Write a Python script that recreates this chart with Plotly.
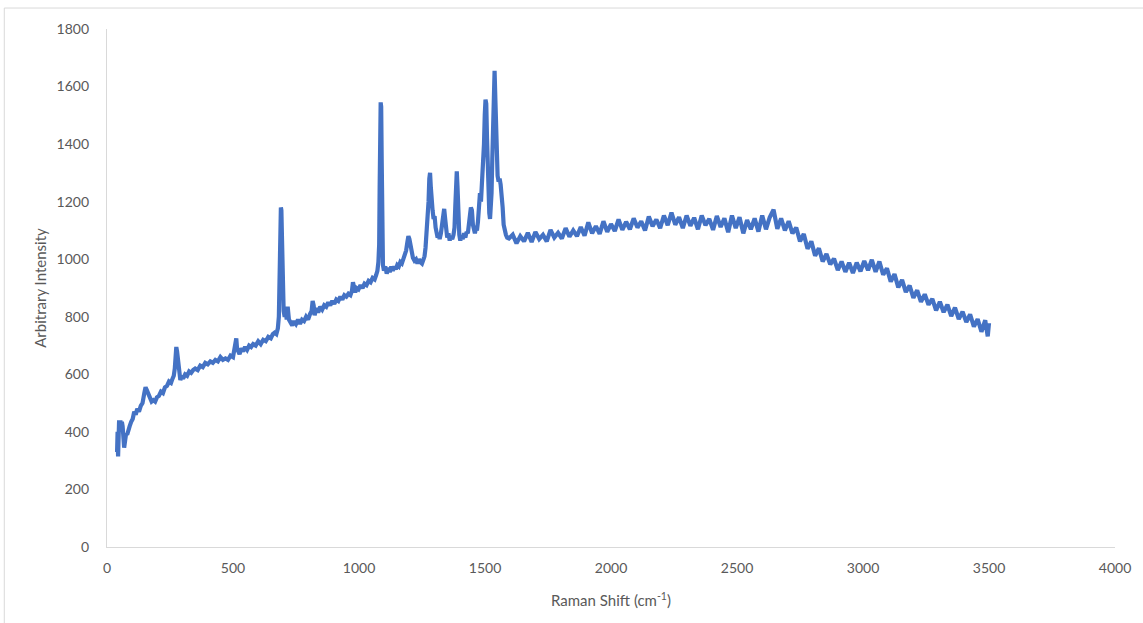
import plotly.graph_objects as go

# Raman spectrum: low-shift region with sharp bands (cm^-1)
shift_low = [40, 42, 44, 46, 48, 50, 53, 56, 59, 62, 65, 68, 72, 76, 80, 85, 90, 96, 102, 108,
             114, 120, 127, 134, 141, 148, 153, 158, 164, 170, 177, 184, 191, 198, 206, 214, 222,
             230, 238, 246, 254, 260, 265, 269, 272, 275, 278, 282, 286, 291, 296, 302, 310, 318,
             326, 334, 342, 350, 360, 370, 380, 390, 400, 410, 420, 430, 440, 450, 460, 470, 480,
             490, 500, 505, 510, 513, 516, 520, 526, 533, 540, 548, 556, 564, 572, 580, 590, 600,
             610, 620, 630, 640, 650, 658, 665, 672, 678, 682, 685, 688, 690, 692, 695, 698, 701,
             705, 709, 713, 717, 722, 728, 735, 742, 750, 758, 766, 774, 782, 790, 798, 806, 812,
             816, 820, 824, 830, 838, 846, 854, 862, 870, 878, 886, 894, 902, 910, 918, 926, 934,
             942, 950, 958, 966, 972, 976, 980, 985, 990, 998, 1006, 1014, 1022, 1030, 1038, 1046,
             1054, 1062, 1068, 1073, 1077, 1080, 1082, 1084, 1086, 1088, 1090, 1092, 1095, 1099,
             1104, 1110, 1116, 1122, 1128, 1134, 1140, 1146, 1152, 1158, 1164, 1170, 1176, 1182,
             1187, 1192, 1196, 1200, 1204, 1209, 1214, 1220, 1226, 1232, 1238, 1244, 1250, 1256,
             1260, 1264, 1268, 1272, 1276, 1279, 1282, 1285, 1288, 1292, 1296, 1300, 1304, 1308,
             1312, 1316, 1320, 1325, 1330, 1334, 1338, 1342, 1346, 1350, 1355, 1360, 1365, 1370,
             1375, 1379, 1382, 1385, 1388, 1391, 1394, 1398, 1402, 1407, 1412, 1417, 1422, 1427,
             1432, 1436, 1440, 1444, 1448, 1452, 1456, 1460, 1464, 1468, 1472, 1476, 1480, 1484,
             1488, 1492, 1496, 1499, 1502, 1505, 1508, 1511, 1514, 1517, 1520, 1523, 1526, 1529,
             1532, 1535, 1538, 1541, 1544, 1547, 1550, 1554, 1558, 1562, 1566, 1570, 1574, 1578,
             1583, 1588]
intensity_low = [330, 400, 315, 420, 440, 400, 440, 415, 435, 420, 360, 345, 370, 395, 390, 410,
                 420, 435, 445, 470, 460, 480, 470, 490, 500, 535, 555, 545, 530, 520, 505, 510,
                 505, 520, 525, 540, 535, 555, 560, 575, 570, 585, 595, 620, 660, 695, 680, 640,
                 600, 580, 595, 585, 600, 595, 610, 605, 615, 620, 615, 630, 625, 640, 635, 645,
                 640, 650, 645, 660, 650, 655, 650, 665, 660, 680, 700, 725, 690, 680, 670, 690,
                 680, 695, 685, 700, 695, 705, 700, 715, 705, 720, 715, 730, 725, 740, 745, 740,
                 760, 800, 950, 1150, 1180, 1170, 1050, 880, 820, 800, 830, 790, 835, 790, 780,
                 770, 785, 775, 790, 775, 790, 785, 800, 790, 810, 820, 855, 840, 805, 830, 815,
                 835, 825, 840, 835, 850, 840, 855, 845, 860, 855, 870, 860, 875, 870, 880, 875,
                 890, 920, 905, 885, 900, 895, 910, 900, 915, 910, 925, 920, 935, 930, 945, 960,
                 990, 1050, 1250, 1450, 1545, 1530, 1350, 1100, 980, 960, 975, 950, 970, 955, 975,
                 960, 975, 965, 980, 975, 990, 985, 1000, 1010, 1030, 1060, 1080, 1070, 1045, 1020,
                 1005, 995, 1000, 985, 1000, 990, 985, 1000, 1010, 1040, 1080, 1130, 1200, 1280,
                 1300, 1250, 1180, 1170, 1140, 1150, 1110, 1090, 1075, 1085, 1070, 1090, 1120,
                 1160, 1175, 1140, 1095, 1075, 1090, 1065, 1080, 1070, 1085, 1110, 1180, 1280,
                 1305, 1250, 1140, 1085, 1065, 1080, 1070, 1090, 1075, 1095, 1090, 1110, 1150,
                 1180, 1170, 1120, 1095, 1090, 1110, 1100, 1130, 1180, 1230, 1200, 1250, 1300,
                 1400, 1500, 1555, 1540, 1420, 1280, 1200, 1160, 1140, 1170, 1230, 1350, 1500,
                 1620, 1655, 1560, 1420, 1330, 1290, 1270, 1280, 1260, 1230, 1180, 1120, 1095,
                 1085, 1075]

# Broad fluorescence background at higher shifts (cm^-1)
shift_high = [1595, 1610, 1625, 1640, 1655, 1670, 1685, 1700, 1715, 1730, 1745, 1760, 1775, 1790,
              1805, 1820, 1835, 1850, 1865, 1880, 1895, 1910, 1925, 1940, 1955, 1970, 1985, 2000,
              2015, 2030, 2045, 2060, 2075, 2090, 2105, 2120, 2135, 2150, 2165, 2180, 2195, 2210,
              2225, 2240, 2255, 2270, 2285, 2300, 2315, 2330, 2345, 2360, 2375, 2390, 2405, 2420,
              2435, 2450, 2465, 2480, 2495, 2510, 2525, 2540, 2555, 2570, 2585, 2600, 2615, 2630,
              2645, 2660, 2675, 2690, 2705, 2720, 2735, 2750, 2765, 2780, 2795, 2810, 2825, 2840,
              2855, 2870, 2885, 2900, 2915, 2930, 2945, 2960, 2975, 2990, 3005, 3020, 3035, 3050,
              3065, 3080, 3095, 3110, 3125, 3140, 3155, 3170, 3185, 3200, 3215, 3230, 3245, 3260,
              3275, 3290, 3305, 3320, 3335, 3350, 3365, 3380, 3395, 3410, 3425, 3440, 3455, 3470,
              3485, 3495, 3500]
intensity_high = [1072, 1085, 1055, 1080, 1062, 1092, 1060, 1095, 1070, 1085, 1062, 1102, 1075,
                  1092, 1072, 1108, 1078, 1100, 1080, 1112, 1082, 1128, 1090, 1115, 1088, 1132,
                  1095, 1122, 1098, 1138, 1102, 1130, 1104, 1142, 1110, 1132, 1100, 1148, 1115,
                  1138, 1108, 1152, 1118, 1162, 1120, 1146, 1108, 1152, 1116, 1144, 1104, 1152,
                  1118, 1140, 1102, 1150, 1112, 1142, 1094, 1152, 1108, 1146, 1090, 1136, 1104,
                  1142, 1096, 1152, 1104, 1146, 1172, 1106, 1142, 1100, 1132, 1090, 1110, 1062,
                  1088, 1036, 1062, 1012, 1038, 992, 1018, 982, 1002, 962, 992, 956, 988, 952, 988,
                  958, 994, 962, 998, 956, 992, 946, 968, 922, 948, 902, 928, 886, 908, 866, 892,
                  852, 878, 842, 862, 822, 852, 816, 842, 802, 832, 792, 818, 782, 808, 766, 792,
                  748, 788, 732, 778]

x_ticks = [0, 500, 1000, 1500, 2000, 2500, 3000, 3500, 4000]
y_ticks = [0, 200, 400, 600, 800, 1000, 1200, 1400, 1600, 1800]

raman_shift = shift_low + shift_high
intensity = intensity_low + intensity_high

TEXT_GREY = "#595959"
AXIS_GREY = "#d9d9d9"
LINE_BLUE = "#4472C4"
FONT = "Lato, 'Open Sans', sans-serif"

fig = go.Figure(
    go.Scatter(
        x=raman_shift,
        y=intensity,
        mode="lines",
        line=dict(color=LINE_BLUE, width=4.2),
        hoverinfo="x+y",
        showlegend=False,
    )
)

fig.update_layout(
    width=1143,
    height=623,
    margin=dict(l=107, r=25, t=29, b=76),
    paper_bgcolor="white",
    plot_bgcolor="white",
    font=dict(family=FONT, color=TEXT_GREY, size=14),
    xaxis=dict(
        range=[0, 4000],
        tickvals=x_ticks,
        showgrid=False,
        zeroline=False,
        showline=True,
        linecolor=AXIS_GREY,
        linewidth=1.3,
        ticks="",
        ticklabelstandoff=8,
        tickfont=dict(size=14, color=TEXT_GREY),
        title=dict(text="Raman Shift (cm<sup>-1</sup>)", standoff=20,
                   font=dict(size=15, color=TEXT_GREY)),
    ),
    yaxis=dict(
        range=[0, 1800],
        tickvals=y_ticks,
        showgrid=False,
        zeroline=False,
        showline=True,
        linecolor=AXIS_GREY,
        linewidth=1.3,
        ticks="",
        ticklabelstandoff=14,
        tickfont=dict(size=14, color=TEXT_GREY),
        title=dict(text="Arbitrary Intensity", standoff=6,
                   font=dict(size=15, color=TEXT_GREY)),
    ),
    shapes=[
        # chart-area frame
        dict(type="rect", xref="paper", yref="paper",
             x0=-0.1019, y0=-0.165, x1=1.035, y1=1.0405,
             line=dict(color=AXIS_GREY, width=1), layer="below"),
    ],
)

fig.write_html("out.html")
